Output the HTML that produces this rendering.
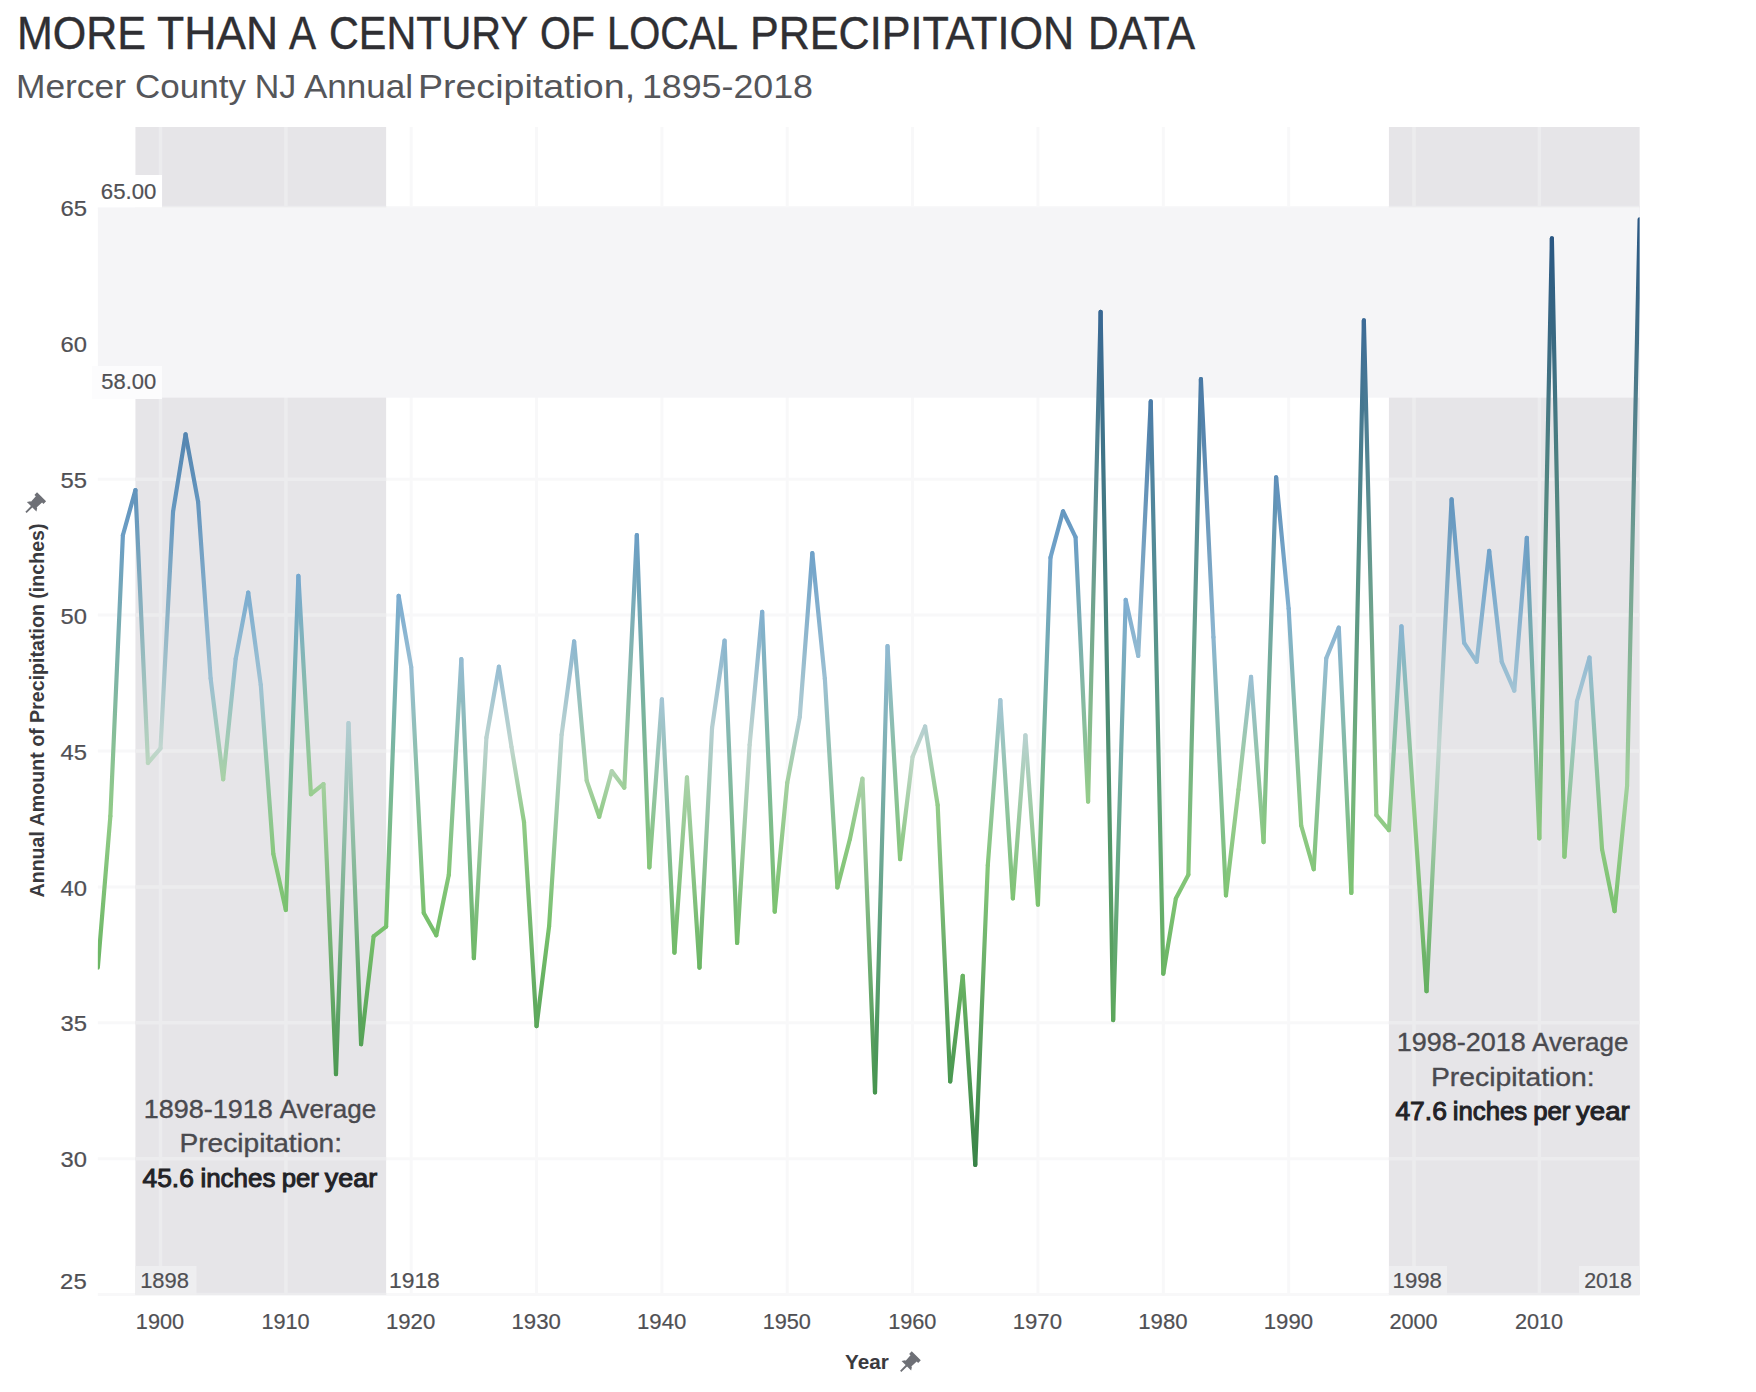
<!DOCTYPE html>
<html><head><meta charset="utf-8"><title>Mercer County NJ Annual Precipitation</title>
<style>
html,body{margin:0;padding:0;background:#fff;}
body{width:1756px;height:1392px;overflow:hidden;position:relative;}
svg{position:absolute;left:0;top:0;}
text{font-family:"Liberation Sans", Arial, sans-serif;}
.title{font-size:46px;fill:#2f2f33;stroke:#2f2f33;stroke-width:0.4px;}
.sub{font-size:33.6px;fill:#55565a;}
.tick{font-size:21.5px;fill:#505054;stroke:#505054;stroke-width:0.2px;}
.bl{font-size:22px;fill:#505054;stroke:#505054;stroke-width:0.2px;}
.ann{font-size:26px;fill:#4a4a4f;stroke:#4a4a4f;stroke-width:0.35px;}
.annb{font-size:26px;fill:#222226;stroke:#222226;stroke-width:1px;}
.axt{font-size:20px;fill:#3a3a3e;font-weight:bold;}
</style></head>
<body>
<svg width="1756" height="1392" viewBox="0 0 1756 1392">
<defs>
<linearGradient id="g0" gradientUnits="userSpaceOnUse" x1="97.83" y1="967.62" x2="110.36" y2="816.23"><stop offset="0" stop-color="#6bb664"/><stop offset="1" stop-color="#91cb87"/></linearGradient>
<linearGradient id="g1" gradientUnits="userSpaceOnUse" x1="110.36" y1="816.23" x2="122.89" y2="535.19"><stop offset="0" stop-color="#91cb87"/><stop offset="1" stop-color="#6c9ec5"/></linearGradient>
<linearGradient id="g2" gradientUnits="userSpaceOnUse" x1="122.89" y1="535.19" x2="135.43" y2="490.07"><stop offset="0" stop-color="#6c9ec5"/><stop offset="1" stop-color="#6193bc"/></linearGradient>
<linearGradient id="g3" gradientUnits="userSpaceOnUse" x1="135.43" y1="490.07" x2="147.97" y2="762.96"><stop offset="0" stop-color="#6193bc"/><stop offset="1" stop-color="#bad5bf"/></linearGradient>
<linearGradient id="g4" gradientUnits="userSpaceOnUse" x1="147.97" y1="762.96" x2="160.5" y2="748.28"><stop offset="0" stop-color="#bad5bf"/><stop offset="1" stop-color="#c1d6cf"/></linearGradient>
<linearGradient id="g5" gradientUnits="userSpaceOnUse" x1="160.5" y1="748.28" x2="173.03" y2="511.82"><stop offset="0" stop-color="#c1d6cf"/><stop offset="1" stop-color="#6698c0"/></linearGradient>
<linearGradient id="g6" gradientUnits="userSpaceOnUse" x1="173.03" y1="511.82" x2="185.57" y2="434.35"><stop offset="0" stop-color="#6698c0"/><stop offset="1" stop-color="#5485b0"/></linearGradient>
<linearGradient id="g7" gradientUnits="userSpaceOnUse" x1="185.57" y1="434.35" x2="198.11" y2="501.76"><stop offset="0" stop-color="#5485b0"/><stop offset="1" stop-color="#6495be"/></linearGradient>
<linearGradient id="g8" gradientUnits="userSpaceOnUse" x1="198.11" y1="501.76" x2="210.64" y2="678.43"><stop offset="0" stop-color="#6495be"/><stop offset="1" stop-color="#9cc0d3"/></linearGradient>
<linearGradient id="g9" gradientUnits="userSpaceOnUse" x1="210.64" y1="678.43" x2="223.18" y2="779.27"><stop offset="0" stop-color="#9cc0d3"/><stop offset="1" stop-color="#a8d1a6"/></linearGradient>
<linearGradient id="g10" gradientUnits="userSpaceOnUse" x1="223.18" y1="779.27" x2="235.71" y2="658.59"><stop offset="0" stop-color="#a8d1a6"/><stop offset="1" stop-color="#94bcd2"/></linearGradient>
<linearGradient id="g11" gradientUnits="userSpaceOnUse" x1="235.71" y1="658.59" x2="248.25" y2="592.54"><stop offset="0" stop-color="#94bcd2"/><stop offset="1" stop-color="#7baccf"/></linearGradient>
<linearGradient id="g12" gradientUnits="userSpaceOnUse" x1="248.25" y1="592.54" x2="260.78" y2="684.95"><stop offset="0" stop-color="#7baccf"/><stop offset="1" stop-color="#9fc2d3"/></linearGradient>
<linearGradient id="g13" gradientUnits="userSpaceOnUse" x1="260.78" y1="684.95" x2="273.31" y2="853.74"><stop offset="0" stop-color="#9fc2d3"/><stop offset="1" stop-color="#89c87e"/></linearGradient>
<linearGradient id="g14" gradientUnits="userSpaceOnUse" x1="273.31" y1="853.74" x2="285.85" y2="910"><stop offset="0" stop-color="#89c87e"/><stop offset="1" stop-color="#7bc270"/></linearGradient>
<linearGradient id="g15" gradientUnits="userSpaceOnUse" x1="285.85" y1="910" x2="298.38" y2="575.96"><stop offset="0" stop-color="#7bc270"/><stop offset="1" stop-color="#76a8ce"/></linearGradient>
<linearGradient id="g16" gradientUnits="userSpaceOnUse" x1="298.38" y1="575.96" x2="310.92" y2="794.22"><stop offset="0" stop-color="#76a8ce"/><stop offset="1" stop-color="#98cd8f"/></linearGradient>
<linearGradient id="g17" gradientUnits="userSpaceOnUse" x1="310.92" y1="794.22" x2="323.46" y2="784.16"><stop offset="0" stop-color="#98cd8f"/><stop offset="1" stop-color="#a3d09e"/></linearGradient>
<linearGradient id="g18" gradientUnits="userSpaceOnUse" x1="323.46" y1="784.16" x2="335.99" y2="1074.17"><stop offset="0" stop-color="#a3d09e"/><stop offset="1" stop-color="#4c9951"/></linearGradient>
<linearGradient id="g19" gradientUnits="userSpaceOnUse" x1="335.99" y1="1074.17" x2="348.52" y2="723"><stop offset="0" stop-color="#4c9951"/><stop offset="1" stop-color="#b2cdd2"/></linearGradient>
<linearGradient id="g20" gradientUnits="userSpaceOnUse" x1="348.52" y1="723" x2="361.06" y2="1044.27"><stop offset="0" stop-color="#b2cdd2"/><stop offset="1" stop-color="#54a156"/></linearGradient>
<linearGradient id="g21" gradientUnits="userSpaceOnUse" x1="361.06" y1="1044.27" x2="373.6" y2="936.37"><stop offset="0" stop-color="#54a156"/><stop offset="1" stop-color="#75be6a"/></linearGradient>
<linearGradient id="g22" gradientUnits="userSpaceOnUse" x1="373.6" y1="936.37" x2="386.13" y2="926.58"><stop offset="0" stop-color="#75be6a"/><stop offset="1" stop-color="#77c16c"/></linearGradient>
<linearGradient id="g23" gradientUnits="userSpaceOnUse" x1="386.13" y1="926.58" x2="398.66" y2="595.8"><stop offset="0" stop-color="#77c16c"/><stop offset="1" stop-color="#7cacd0"/></linearGradient>
<linearGradient id="g24" gradientUnits="userSpaceOnUse" x1="398.66" y1="595.8" x2="411.2" y2="667.01"><stop offset="0" stop-color="#7cacd0"/><stop offset="1" stop-color="#98bed3"/></linearGradient>
<linearGradient id="g25" gradientUnits="userSpaceOnUse" x1="411.2" y1="667.01" x2="423.74" y2="912.99"><stop offset="0" stop-color="#98bed3"/><stop offset="1" stop-color="#7bc26f"/></linearGradient>
<linearGradient id="g26" gradientUnits="userSpaceOnUse" x1="423.74" y1="912.99" x2="436.27" y2="935.28"><stop offset="0" stop-color="#7bc26f"/><stop offset="1" stop-color="#75be6a"/></linearGradient>
<linearGradient id="g27" gradientUnits="userSpaceOnUse" x1="436.27" y1="935.28" x2="448.81" y2="874.94"><stop offset="0" stop-color="#75be6a"/><stop offset="1" stop-color="#84c678"/></linearGradient>
<linearGradient id="g28" gradientUnits="userSpaceOnUse" x1="448.81" y1="874.94" x2="461.34" y2="659.13"><stop offset="0" stop-color="#84c678"/><stop offset="1" stop-color="#95bcd2"/></linearGradient>
<linearGradient id="g29" gradientUnits="userSpaceOnUse" x1="461.34" y1="659.13" x2="473.88" y2="958.11"><stop offset="0" stop-color="#95bcd2"/><stop offset="1" stop-color="#6eb866"/></linearGradient>
<linearGradient id="g30" gradientUnits="userSpaceOnUse" x1="473.88" y1="958.11" x2="486.41" y2="737.68"><stop offset="0" stop-color="#6eb866"/><stop offset="1" stop-color="#bbd3d0"/></linearGradient>
<linearGradient id="g31" gradientUnits="userSpaceOnUse" x1="486.41" y1="737.68" x2="498.94" y2="666.74"><stop offset="0" stop-color="#bbd3d0"/><stop offset="1" stop-color="#98bed3"/></linearGradient>
<linearGradient id="g32" gradientUnits="userSpaceOnUse" x1="498.94" y1="666.74" x2="511.48" y2="746.92"><stop offset="0" stop-color="#98bed3"/><stop offset="1" stop-color="#c0d6cf"/></linearGradient>
<linearGradient id="g33" gradientUnits="userSpaceOnUse" x1="511.48" y1="746.92" x2="524.01" y2="822.21"><stop offset="0" stop-color="#c0d6cf"/><stop offset="1" stop-color="#90cb86"/></linearGradient>
<linearGradient id="g34" gradientUnits="userSpaceOnUse" x1="524.01" y1="822.21" x2="536.55" y2="1026.06"><stop offset="0" stop-color="#90cb86"/><stop offset="1" stop-color="#5aa65a"/></linearGradient>
<linearGradient id="g35" gradientUnits="userSpaceOnUse" x1="536.55" y1="1026.06" x2="549.09" y2="926.31"><stop offset="0" stop-color="#5aa65a"/><stop offset="1" stop-color="#78c16c"/></linearGradient>
<linearGradient id="g36" gradientUnits="userSpaceOnUse" x1="549.09" y1="926.31" x2="561.62" y2="734.69"><stop offset="0" stop-color="#78c16c"/><stop offset="1" stop-color="#b9d2d0"/></linearGradient>
<linearGradient id="g37" gradientUnits="userSpaceOnUse" x1="561.62" y1="734.69" x2="574.15" y2="641.46"><stop offset="0" stop-color="#b9d2d0"/><stop offset="1" stop-color="#8eb7d1"/></linearGradient>
<linearGradient id="g38" gradientUnits="userSpaceOnUse" x1="574.15" y1="641.46" x2="586.69" y2="780.63"><stop offset="0" stop-color="#8eb7d1"/><stop offset="1" stop-color="#a7d1a4"/></linearGradient>
<linearGradient id="g39" gradientUnits="userSpaceOnUse" x1="586.69" y1="780.63" x2="599.23" y2="816.78"><stop offset="0" stop-color="#a7d1a4"/><stop offset="1" stop-color="#91cb87"/></linearGradient>
<linearGradient id="g40" gradientUnits="userSpaceOnUse" x1="599.23" y1="816.78" x2="611.76" y2="771.11"><stop offset="0" stop-color="#91cb87"/><stop offset="1" stop-color="#b1d3b2"/></linearGradient>
<linearGradient id="g41" gradientUnits="userSpaceOnUse" x1="611.76" y1="771.11" x2="624.3" y2="787.69"><stop offset="0" stop-color="#b1d3b2"/><stop offset="1" stop-color="#9fcf99"/></linearGradient>
<linearGradient id="g42" gradientUnits="userSpaceOnUse" x1="624.3" y1="787.69" x2="636.83" y2="535.19"><stop offset="0" stop-color="#9fcf99"/><stop offset="1" stop-color="#6c9ec5"/></linearGradient>
<linearGradient id="g43" gradientUnits="userSpaceOnUse" x1="636.83" y1="535.19" x2="649.37" y2="867.33"><stop offset="0" stop-color="#6c9ec5"/><stop offset="1" stop-color="#85c67a"/></linearGradient>
<linearGradient id="g44" gradientUnits="userSpaceOnUse" x1="649.37" y1="867.33" x2="661.9" y2="699.36"><stop offset="0" stop-color="#85c67a"/><stop offset="1" stop-color="#a4c5d4"/></linearGradient>
<linearGradient id="g45" gradientUnits="userSpaceOnUse" x1="661.9" y1="699.36" x2="674.44" y2="952.68"><stop offset="0" stop-color="#a4c5d4"/><stop offset="1" stop-color="#70ba67"/></linearGradient>
<linearGradient id="g46" gradientUnits="userSpaceOnUse" x1="674.44" y1="952.68" x2="686.97" y2="777.36"><stop offset="0" stop-color="#70ba67"/><stop offset="1" stop-color="#aad2a9"/></linearGradient>
<linearGradient id="g47" gradientUnits="userSpaceOnUse" x1="686.97" y1="777.36" x2="699.5" y2="967.62"><stop offset="0" stop-color="#aad2a9"/><stop offset="1" stop-color="#6bb664"/></linearGradient>
<linearGradient id="g48" gradientUnits="userSpaceOnUse" x1="699.5" y1="967.62" x2="712.04" y2="728.17"><stop offset="0" stop-color="#6bb664"/><stop offset="1" stop-color="#b5cfd1"/></linearGradient>
<linearGradient id="g49" gradientUnits="userSpaceOnUse" x1="712.04" y1="728.17" x2="724.58" y2="640.65"><stop offset="0" stop-color="#b5cfd1"/><stop offset="1" stop-color="#8eb7d1"/></linearGradient>
<linearGradient id="g50" gradientUnits="userSpaceOnUse" x1="724.58" y1="640.65" x2="737.11" y2="942.89"><stop offset="0" stop-color="#8eb7d1"/><stop offset="1" stop-color="#73bc69"/></linearGradient>
<linearGradient id="g51" gradientUnits="userSpaceOnUse" x1="737.11" y1="942.89" x2="749.64" y2="744.75"><stop offset="0" stop-color="#73bc69"/><stop offset="1" stop-color="#bfd5cf"/></linearGradient>
<linearGradient id="g52" gradientUnits="userSpaceOnUse" x1="749.64" y1="744.75" x2="762.18" y2="611.84"><stop offset="0" stop-color="#bfd5cf"/><stop offset="1" stop-color="#83b0d0"/></linearGradient>
<linearGradient id="g53" gradientUnits="userSpaceOnUse" x1="762.18" y1="611.84" x2="774.72" y2="911.63"><stop offset="0" stop-color="#83b0d0"/><stop offset="1" stop-color="#7bc26f"/></linearGradient>
<linearGradient id="g54" gradientUnits="userSpaceOnUse" x1="774.72" y1="911.63" x2="787.25" y2="782.8"><stop offset="0" stop-color="#7bc26f"/><stop offset="1" stop-color="#a4d0a0"/></linearGradient>
<linearGradient id="g55" gradientUnits="userSpaceOnUse" x1="787.25" y1="782.8" x2="799.78" y2="716.75"><stop offset="0" stop-color="#a4d0a0"/><stop offset="1" stop-color="#aecbd2"/></linearGradient>
<linearGradient id="g56" gradientUnits="userSpaceOnUse" x1="799.78" y1="716.75" x2="812.32" y2="553.13"><stop offset="0" stop-color="#aecbd2"/><stop offset="1" stop-color="#70a2c9"/></linearGradient>
<linearGradient id="g57" gradientUnits="userSpaceOnUse" x1="812.32" y1="553.13" x2="824.86" y2="678.7"><stop offset="0" stop-color="#70a2c9"/><stop offset="1" stop-color="#9cc0d3"/></linearGradient>
<linearGradient id="g58" gradientUnits="userSpaceOnUse" x1="824.86" y1="678.7" x2="837.39" y2="887.44"><stop offset="0" stop-color="#9cc0d3"/><stop offset="1" stop-color="#81c475"/></linearGradient>
<linearGradient id="g59" gradientUnits="userSpaceOnUse" x1="837.39" y1="887.44" x2="849.92" y2="839.06"><stop offset="0" stop-color="#81c475"/><stop offset="1" stop-color="#8cc981"/></linearGradient>
<linearGradient id="g60" gradientUnits="userSpaceOnUse" x1="849.92" y1="839.06" x2="862.46" y2="778.72"><stop offset="0" stop-color="#8cc981"/><stop offset="1" stop-color="#a9d1a7"/></linearGradient>
<linearGradient id="g61" gradientUnits="userSpaceOnUse" x1="862.46" y1="778.72" x2="875" y2="1092.38"><stop offset="0" stop-color="#a9d1a7"/><stop offset="1" stop-color="#46944e"/></linearGradient>
<linearGradient id="g62" gradientUnits="userSpaceOnUse" x1="875" y1="1092.38" x2="887.53" y2="646.09"><stop offset="0" stop-color="#46944e"/><stop offset="1" stop-color="#90b9d2"/></linearGradient>
<linearGradient id="g63" gradientUnits="userSpaceOnUse" x1="887.53" y1="646.09" x2="900.07" y2="859.18"><stop offset="0" stop-color="#90b9d2"/><stop offset="1" stop-color="#87c77c"/></linearGradient>
<linearGradient id="g64" gradientUnits="userSpaceOnUse" x1="900.07" y1="859.18" x2="912.6" y2="756.71"><stop offset="0" stop-color="#87c77c"/><stop offset="1" stop-color="#c0d7c9"/></linearGradient>
<linearGradient id="g65" gradientUnits="userSpaceOnUse" x1="912.6" y1="756.71" x2="925.13" y2="726.54"><stop offset="0" stop-color="#c0d7c9"/><stop offset="1" stop-color="#b4cfd1"/></linearGradient>
<linearGradient id="g66" gradientUnits="userSpaceOnUse" x1="925.13" y1="726.54" x2="937.67" y2="805.09"><stop offset="0" stop-color="#b4cfd1"/><stop offset="1" stop-color="#94cc8a"/></linearGradient>
<linearGradient id="g67" gradientUnits="userSpaceOnUse" x1="937.67" y1="805.09" x2="950.21" y2="1081.51"><stop offset="0" stop-color="#94cc8a"/><stop offset="1" stop-color="#499750"/></linearGradient>
<linearGradient id="g68" gradientUnits="userSpaceOnUse" x1="950.21" y1="1081.51" x2="962.74" y2="975.78"><stop offset="0" stop-color="#499750"/><stop offset="1" stop-color="#69b363"/></linearGradient>
<linearGradient id="g69" gradientUnits="userSpaceOnUse" x1="962.74" y1="975.78" x2="975.27" y2="1164.95"><stop offset="0" stop-color="#69b363"/><stop offset="1" stop-color="#388247"/></linearGradient>
<linearGradient id="g70" gradientUnits="userSpaceOnUse" x1="975.27" y1="1164.95" x2="987.81" y2="865.16"><stop offset="0" stop-color="#388247"/><stop offset="1" stop-color="#86c77b"/></linearGradient>
<linearGradient id="g71" gradientUnits="userSpaceOnUse" x1="987.81" y1="865.16" x2="1000.35" y2="700.17"><stop offset="0" stop-color="#86c77b"/><stop offset="1" stop-color="#a4c6d4"/></linearGradient>
<linearGradient id="g72" gradientUnits="userSpaceOnUse" x1="1000.35" y1="700.17" x2="1012.88" y2="898.32"><stop offset="0" stop-color="#a4c6d4"/><stop offset="1" stop-color="#7ec373"/></linearGradient>
<linearGradient id="g73" gradientUnits="userSpaceOnUse" x1="1012.88" y1="898.32" x2="1025.41" y2="735.24"><stop offset="0" stop-color="#7ec373"/><stop offset="1" stop-color="#b9d2d0"/></linearGradient>
<linearGradient id="g74" gradientUnits="userSpaceOnUse" x1="1025.41" y1="735.24" x2="1037.95" y2="904.57"><stop offset="0" stop-color="#b9d2d0"/><stop offset="1" stop-color="#7dc371"/></linearGradient>
<linearGradient id="g75" gradientUnits="userSpaceOnUse" x1="1037.95" y1="904.57" x2="1050.49" y2="557.48"><stop offset="0" stop-color="#7dc371"/><stop offset="1" stop-color="#71a3ca"/></linearGradient>
<linearGradient id="g76" gradientUnits="userSpaceOnUse" x1="1050.49" y1="557.48" x2="1063.02" y2="511.27"><stop offset="0" stop-color="#71a3ca"/><stop offset="1" stop-color="#6698c0"/></linearGradient>
<linearGradient id="g77" gradientUnits="userSpaceOnUse" x1="1063.02" y1="511.27" x2="1075.56" y2="537.09"><stop offset="0" stop-color="#6698c0"/><stop offset="1" stop-color="#6c9ec6"/></linearGradient>
<linearGradient id="g78" gradientUnits="userSpaceOnUse" x1="1075.56" y1="537.09" x2="1088.09" y2="801.55"><stop offset="0" stop-color="#6c9ec6"/><stop offset="1" stop-color="#95cc8b"/></linearGradient>
<linearGradient id="g79" gradientUnits="userSpaceOnUse" x1="1088.09" y1="801.55" x2="1100.62" y2="311.77"><stop offset="0" stop-color="#95cc8b"/><stop offset="1" stop-color="#396894"/></linearGradient>
<linearGradient id="g80" gradientUnits="userSpaceOnUse" x1="1100.62" y1="311.77" x2="1113.16" y2="1020.08"><stop offset="0" stop-color="#396894"/><stop offset="1" stop-color="#5ca75b"/></linearGradient>
<linearGradient id="g81" gradientUnits="userSpaceOnUse" x1="1113.16" y1="1020.08" x2="1125.7" y2="599.88"><stop offset="0" stop-color="#5ca75b"/><stop offset="1" stop-color="#7eadd0"/></linearGradient>
<linearGradient id="g82" gradientUnits="userSpaceOnUse" x1="1125.7" y1="599.88" x2="1138.23" y2="655.87"><stop offset="0" stop-color="#7eadd0"/><stop offset="1" stop-color="#93bbd2"/></linearGradient>
<linearGradient id="g83" gradientUnits="userSpaceOnUse" x1="1138.23" y1="655.87" x2="1150.76" y2="401.47"><stop offset="0" stop-color="#93bbd2"/><stop offset="1" stop-color="#4c7da9"/></linearGradient>
<linearGradient id="g84" gradientUnits="userSpaceOnUse" x1="1150.76" y1="401.47" x2="1163.3" y2="973.6"><stop offset="0" stop-color="#4c7da9"/><stop offset="1" stop-color="#69b463"/></linearGradient>
<linearGradient id="g85" gradientUnits="userSpaceOnUse" x1="1163.3" y1="973.6" x2="1175.84" y2="898.59"><stop offset="0" stop-color="#69b463"/><stop offset="1" stop-color="#7ec373"/></linearGradient>
<linearGradient id="g86" gradientUnits="userSpaceOnUse" x1="1175.84" y1="898.59" x2="1188.37" y2="874.67"><stop offset="0" stop-color="#7ec373"/><stop offset="1" stop-color="#84c678"/></linearGradient>
<linearGradient id="g87" gradientUnits="userSpaceOnUse" x1="1188.37" y1="874.67" x2="1200.9" y2="379.18"><stop offset="0" stop-color="#84c678"/><stop offset="1" stop-color="#4878a4"/></linearGradient>
<linearGradient id="g88" gradientUnits="userSpaceOnUse" x1="1200.9" y1="379.18" x2="1213.44" y2="637.12"><stop offset="0" stop-color="#4878a4"/><stop offset="1" stop-color="#8cb6d1"/></linearGradient>
<linearGradient id="g89" gradientUnits="userSpaceOnUse" x1="1213.44" y1="637.12" x2="1225.97" y2="895.33"><stop offset="0" stop-color="#8cb6d1"/><stop offset="1" stop-color="#7fc473"/></linearGradient>
<linearGradient id="g90" gradientUnits="userSpaceOnUse" x1="1225.97" y1="895.33" x2="1238.51" y2="789.6"><stop offset="0" stop-color="#7fc473"/><stop offset="1" stop-color="#9dcf96"/></linearGradient>
<linearGradient id="g91" gradientUnits="userSpaceOnUse" x1="1238.51" y1="789.6" x2="1251.05" y2="676.8"><stop offset="0" stop-color="#9dcf96"/><stop offset="1" stop-color="#9bc0d3"/></linearGradient>
<linearGradient id="g92" gradientUnits="userSpaceOnUse" x1="1251.05" y1="676.8" x2="1263.58" y2="842.05"><stop offset="0" stop-color="#9bc0d3"/><stop offset="1" stop-color="#8bc981"/></linearGradient>
<linearGradient id="g93" gradientUnits="userSpaceOnUse" x1="1263.58" y1="842.05" x2="1276.12" y2="477.3"><stop offset="0" stop-color="#8bc981"/><stop offset="1" stop-color="#5e8fb9"/></linearGradient>
<linearGradient id="g94" gradientUnits="userSpaceOnUse" x1="1276.12" y1="477.3" x2="1288.65" y2="608.58"><stop offset="0" stop-color="#5e8fb9"/><stop offset="1" stop-color="#81b0d0"/></linearGradient>
<linearGradient id="g95" gradientUnits="userSpaceOnUse" x1="1288.65" y1="608.58" x2="1301.18" y2="825.47"><stop offset="0" stop-color="#81b0d0"/><stop offset="1" stop-color="#8fca85"/></linearGradient>
<linearGradient id="g96" gradientUnits="userSpaceOnUse" x1="1301.18" y1="825.47" x2="1313.72" y2="869.23"><stop offset="0" stop-color="#8fca85"/><stop offset="1" stop-color="#85c67a"/></linearGradient>
<linearGradient id="g97" gradientUnits="userSpaceOnUse" x1="1313.72" y1="869.23" x2="1326.26" y2="658.32"><stop offset="0" stop-color="#85c67a"/><stop offset="1" stop-color="#94bcd2"/></linearGradient>
<linearGradient id="g98" gradientUnits="userSpaceOnUse" x1="1326.26" y1="658.32" x2="1338.79" y2="627.6"><stop offset="0" stop-color="#94bcd2"/><stop offset="1" stop-color="#89b4d1"/></linearGradient>
<linearGradient id="g99" gradientUnits="userSpaceOnUse" x1="1338.79" y1="627.6" x2="1351.33" y2="892.88"><stop offset="0" stop-color="#89b4d1"/><stop offset="1" stop-color="#7fc474"/></linearGradient>
<linearGradient id="g100" gradientUnits="userSpaceOnUse" x1="1351.33" y1="892.88" x2="1363.86" y2="320.47"><stop offset="0" stop-color="#7fc474"/><stop offset="1" stop-color="#3b6a96"/></linearGradient>
<linearGradient id="g101" gradientUnits="userSpaceOnUse" x1="1363.86" y1="320.47" x2="1376.39" y2="815.14"><stop offset="0" stop-color="#3b6a96"/><stop offset="1" stop-color="#92cb87"/></linearGradient>
<linearGradient id="g102" gradientUnits="userSpaceOnUse" x1="1376.39" y1="815.14" x2="1388.93" y2="830.09"><stop offset="0" stop-color="#92cb87"/><stop offset="1" stop-color="#8eca84"/></linearGradient>
<linearGradient id="g103" gradientUnits="userSpaceOnUse" x1="1388.93" y1="830.09" x2="1401.46" y2="626.24"><stop offset="0" stop-color="#8eca84"/><stop offset="1" stop-color="#88b4d1"/></linearGradient>
<linearGradient id="g104" gradientUnits="userSpaceOnUse" x1="1401.46" y1="626.24" x2="1414" y2="807.81"><stop offset="0" stop-color="#88b4d1"/><stop offset="1" stop-color="#93cc89"/></linearGradient>
<linearGradient id="g105" gradientUnits="userSpaceOnUse" x1="1414" y1="807.81" x2="1426.54" y2="991.27"><stop offset="0" stop-color="#93cc89"/><stop offset="1" stop-color="#64af60"/></linearGradient>
<linearGradient id="g106" gradientUnits="userSpaceOnUse" x1="1426.54" y1="991.27" x2="1439.07" y2="744.2"><stop offset="0" stop-color="#64af60"/><stop offset="1" stop-color="#bfd5cf"/></linearGradient>
<linearGradient id="g107" gradientUnits="userSpaceOnUse" x1="1439.07" y1="744.2" x2="1451.61" y2="499.31"><stop offset="0" stop-color="#bfd5cf"/><stop offset="1" stop-color="#6395be"/></linearGradient>
<linearGradient id="g108" gradientUnits="userSpaceOnUse" x1="1451.61" y1="499.31" x2="1464.14" y2="642.82"><stop offset="0" stop-color="#6395be"/><stop offset="1" stop-color="#8eb8d2"/></linearGradient>
<linearGradient id="g109" gradientUnits="userSpaceOnUse" x1="1464.14" y1="642.82" x2="1476.67" y2="661.85"><stop offset="0" stop-color="#8eb8d2"/><stop offset="1" stop-color="#96bcd2"/></linearGradient>
<linearGradient id="g110" gradientUnits="userSpaceOnUse" x1="1476.67" y1="661.85" x2="1489.21" y2="550.96"><stop offset="0" stop-color="#96bcd2"/><stop offset="1" stop-color="#70a2c9"/></linearGradient>
<linearGradient id="g111" gradientUnits="userSpaceOnUse" x1="1489.21" y1="550.96" x2="1501.75" y2="661.85"><stop offset="0" stop-color="#70a2c9"/><stop offset="1" stop-color="#96bcd2"/></linearGradient>
<linearGradient id="g112" gradientUnits="userSpaceOnUse" x1="1501.75" y1="661.85" x2="1514.28" y2="690.66"><stop offset="0" stop-color="#96bcd2"/><stop offset="1" stop-color="#a1c3d4"/></linearGradient>
<linearGradient id="g113" gradientUnits="userSpaceOnUse" x1="1514.28" y1="690.66" x2="1526.82" y2="537.91"><stop offset="0" stop-color="#a1c3d4"/><stop offset="1" stop-color="#6d9ec6"/></linearGradient>
<linearGradient id="g114" gradientUnits="userSpaceOnUse" x1="1526.82" y1="537.91" x2="1539.35" y2="838.52"><stop offset="0" stop-color="#6d9ec6"/><stop offset="1" stop-color="#8cc981"/></linearGradient>
<linearGradient id="g115" gradientUnits="userSpaceOnUse" x1="1539.35" y1="838.52" x2="1551.88" y2="238.39"><stop offset="0" stop-color="#8cc981"/><stop offset="1" stop-color="#2a5783"/></linearGradient>
<linearGradient id="g116" gradientUnits="userSpaceOnUse" x1="1551.88" y1="238.39" x2="1564.42" y2="856.73"><stop offset="0" stop-color="#2a5783"/><stop offset="1" stop-color="#88c77d"/></linearGradient>
<linearGradient id="g117" gradientUnits="userSpaceOnUse" x1="1564.42" y1="856.73" x2="1576.95" y2="701.26"><stop offset="0" stop-color="#88c77d"/><stop offset="1" stop-color="#a5c6d4"/></linearGradient>
<linearGradient id="g118" gradientUnits="userSpaceOnUse" x1="1576.95" y1="701.26" x2="1589.49" y2="657.5"><stop offset="0" stop-color="#a5c6d4"/><stop offset="1" stop-color="#94bbd2"/></linearGradient>
<linearGradient id="g119" gradientUnits="userSpaceOnUse" x1="1589.49" y1="657.5" x2="1602.03" y2="849.12"><stop offset="0" stop-color="#94bbd2"/><stop offset="1" stop-color="#8ac87f"/></linearGradient>
<linearGradient id="g120" gradientUnits="userSpaceOnUse" x1="1602.03" y1="849.12" x2="1614.56" y2="911.09"><stop offset="0" stop-color="#8ac87f"/><stop offset="1" stop-color="#7bc26f"/></linearGradient>
<linearGradient id="g121" gradientUnits="userSpaceOnUse" x1="1614.56" y1="911.09" x2="1627.1" y2="785.79"><stop offset="0" stop-color="#7bc26f"/><stop offset="1" stop-color="#a1d09c"/></linearGradient>
<linearGradient id="g122" gradientUnits="userSpaceOnUse" x1="1627.1" y1="785.79" x2="1639.63" y2="219.36"><stop offset="0" stop-color="#a1d09c"/><stop offset="1" stop-color="#2a5783"/></linearGradient>
</defs>
<clipPath id="bands">
<rect x="135.43" y="127" width="250.7" height="1167.6"/>
<rect x="1388.93" y="127" width="250.7" height="1167.6"/>
</clipPath>
<g stroke="#f8f8f9" stroke-width="3">
<line x1="160.5" y1="127" x2="160.5" y2="1294.6"/>
<line x1="285.85" y1="127" x2="285.85" y2="1294.6"/>
<line x1="411.2" y1="127" x2="411.2" y2="1294.6"/>
<line x1="536.55" y1="127" x2="536.55" y2="1294.6"/>
<line x1="661.9" y1="127" x2="661.9" y2="1294.6"/>
<line x1="787.25" y1="127" x2="787.25" y2="1294.6"/>
<line x1="912.6" y1="127" x2="912.6" y2="1294.6"/>
<line x1="1037.95" y1="127" x2="1037.95" y2="1294.6"/>
<line x1="1163.3" y1="127" x2="1163.3" y2="1294.6"/>
<line x1="1288.65" y1="127" x2="1288.65" y2="1294.6"/>
<line x1="1414" y1="127" x2="1414" y2="1294.6"/>
<line x1="1539.35" y1="127" x2="1539.35" y2="1294.6"/>
<line x1="97.83" y1="1294.6" x2="1639.63" y2="1294.6"/>
<line x1="97.83" y1="1158.7" x2="1639.63" y2="1158.7"/>
<line x1="97.83" y1="1022.8" x2="1639.63" y2="1022.8"/>
<line x1="97.83" y1="886.9" x2="1639.63" y2="886.9"/>
<line x1="97.83" y1="751" x2="1639.63" y2="751"/>
<line x1="97.83" y1="615.1" x2="1639.63" y2="615.1"/>
<line x1="97.83" y1="479.2" x2="1639.63" y2="479.2"/>
<line x1="97.83" y1="343.3" x2="1639.63" y2="343.3"/>
<line x1="97.83" y1="207.4" x2="1639.63" y2="207.4"/>
</g>
<rect x="135.43" y="127" width="250.7" height="1167.6" fill="#e6e5e8"/>
<rect x="1388.93" y="127" width="250.7" height="1167.6" fill="#e6e5e8"/>
<g stroke="#ececee" stroke-width="3.5" clip-path="url(#bands)">
<line x1="160.5" y1="127" x2="160.5" y2="1294.6"/>
<line x1="285.85" y1="127" x2="285.85" y2="1294.6"/>
<line x1="411.2" y1="127" x2="411.2" y2="1294.6"/>
<line x1="536.55" y1="127" x2="536.55" y2="1294.6"/>
<line x1="661.9" y1="127" x2="661.9" y2="1294.6"/>
<line x1="787.25" y1="127" x2="787.25" y2="1294.6"/>
<line x1="912.6" y1="127" x2="912.6" y2="1294.6"/>
<line x1="1037.95" y1="127" x2="1037.95" y2="1294.6"/>
<line x1="1163.3" y1="127" x2="1163.3" y2="1294.6"/>
<line x1="1288.65" y1="127" x2="1288.65" y2="1294.6"/>
<line x1="1414" y1="127" x2="1414" y2="1294.6"/>
<line x1="1539.35" y1="127" x2="1539.35" y2="1294.6"/>
<line x1="97.83" y1="1294.6" x2="1639.63" y2="1294.6"/>
<line x1="97.83" y1="1158.7" x2="1639.63" y2="1158.7"/>
<line x1="97.83" y1="1022.8" x2="1639.63" y2="1022.8"/>
<line x1="97.83" y1="886.9" x2="1639.63" y2="886.9"/>
<line x1="97.83" y1="751" x2="1639.63" y2="751"/>
<line x1="97.83" y1="615.1" x2="1639.63" y2="615.1"/>
<line x1="97.83" y1="479.2" x2="1639.63" y2="479.2"/>
<line x1="97.83" y1="343.3" x2="1639.63" y2="343.3"/>
<line x1="97.83" y1="207.4" x2="1639.63" y2="207.4"/>
</g>
<rect x="97.83" y="207.4" width="1541.81" height="190.26" fill="#f5f5f7"/>
<rect x="92" y="175" width="70" height="32.4" fill="#ffffff"/>
<rect x="92" y="366" width="70" height="33" fill="#fcfcfd"/>
<rect x="135.43" y="1266" width="61" height="28.6" fill="#eeeef0"/>
<rect x="1388.93" y="1266" width="58" height="28.6" fill="#eeeef0"/>
<rect x="1579" y="1266" width="60.63" height="28.6" fill="#eeeef0"/>
<clipPath id="pane"><rect x="97.83" y="127" width="1541.81" height="1167.6"/></clipPath>
<g clip-path="url(#pane)" stroke-width="4.2" stroke-linecap="round" fill="none">
<line x1="97.83" y1="967.62" x2="110.36" y2="816.23" stroke="url(#g0)"/>
<line x1="110.36" y1="816.23" x2="122.89" y2="535.19" stroke="url(#g1)"/>
<line x1="122.89" y1="535.19" x2="135.43" y2="490.07" stroke="url(#g2)"/>
<line x1="135.43" y1="490.07" x2="147.97" y2="762.96" stroke="url(#g3)"/>
<line x1="147.97" y1="762.96" x2="160.5" y2="748.28" stroke="url(#g4)"/>
<line x1="160.5" y1="748.28" x2="173.03" y2="511.82" stroke="url(#g5)"/>
<line x1="173.03" y1="511.82" x2="185.57" y2="434.35" stroke="url(#g6)"/>
<line x1="185.57" y1="434.35" x2="198.11" y2="501.76" stroke="url(#g7)"/>
<line x1="198.11" y1="501.76" x2="210.64" y2="678.43" stroke="url(#g8)"/>
<line x1="210.64" y1="678.43" x2="223.18" y2="779.27" stroke="url(#g9)"/>
<line x1="223.18" y1="779.27" x2="235.71" y2="658.59" stroke="url(#g10)"/>
<line x1="235.71" y1="658.59" x2="248.25" y2="592.54" stroke="url(#g11)"/>
<line x1="248.25" y1="592.54" x2="260.78" y2="684.95" stroke="url(#g12)"/>
<line x1="260.78" y1="684.95" x2="273.31" y2="853.74" stroke="url(#g13)"/>
<line x1="273.31" y1="853.74" x2="285.85" y2="910" stroke="url(#g14)"/>
<line x1="285.85" y1="910" x2="298.38" y2="575.96" stroke="url(#g15)"/>
<line x1="298.38" y1="575.96" x2="310.92" y2="794.22" stroke="url(#g16)"/>
<line x1="310.92" y1="794.22" x2="323.46" y2="784.16" stroke="url(#g17)"/>
<line x1="323.46" y1="784.16" x2="335.99" y2="1074.17" stroke="url(#g18)"/>
<line x1="335.99" y1="1074.17" x2="348.52" y2="723" stroke="url(#g19)"/>
<line x1="348.52" y1="723" x2="361.06" y2="1044.27" stroke="url(#g20)"/>
<line x1="361.06" y1="1044.27" x2="373.6" y2="936.37" stroke="url(#g21)"/>
<line x1="373.6" y1="936.37" x2="386.13" y2="926.58" stroke="url(#g22)"/>
<line x1="386.13" y1="926.58" x2="398.66" y2="595.8" stroke="url(#g23)"/>
<line x1="398.66" y1="595.8" x2="411.2" y2="667.01" stroke="url(#g24)"/>
<line x1="411.2" y1="667.01" x2="423.74" y2="912.99" stroke="url(#g25)"/>
<line x1="423.74" y1="912.99" x2="436.27" y2="935.28" stroke="url(#g26)"/>
<line x1="436.27" y1="935.28" x2="448.81" y2="874.94" stroke="url(#g27)"/>
<line x1="448.81" y1="874.94" x2="461.34" y2="659.13" stroke="url(#g28)"/>
<line x1="461.34" y1="659.13" x2="473.88" y2="958.11" stroke="url(#g29)"/>
<line x1="473.88" y1="958.11" x2="486.41" y2="737.68" stroke="url(#g30)"/>
<line x1="486.41" y1="737.68" x2="498.94" y2="666.74" stroke="url(#g31)"/>
<line x1="498.94" y1="666.74" x2="511.48" y2="746.92" stroke="url(#g32)"/>
<line x1="511.48" y1="746.92" x2="524.01" y2="822.21" stroke="url(#g33)"/>
<line x1="524.01" y1="822.21" x2="536.55" y2="1026.06" stroke="url(#g34)"/>
<line x1="536.55" y1="1026.06" x2="549.09" y2="926.31" stroke="url(#g35)"/>
<line x1="549.09" y1="926.31" x2="561.62" y2="734.69" stroke="url(#g36)"/>
<line x1="561.62" y1="734.69" x2="574.15" y2="641.46" stroke="url(#g37)"/>
<line x1="574.15" y1="641.46" x2="586.69" y2="780.63" stroke="url(#g38)"/>
<line x1="586.69" y1="780.63" x2="599.23" y2="816.78" stroke="url(#g39)"/>
<line x1="599.23" y1="816.78" x2="611.76" y2="771.11" stroke="url(#g40)"/>
<line x1="611.76" y1="771.11" x2="624.3" y2="787.69" stroke="url(#g41)"/>
<line x1="624.3" y1="787.69" x2="636.83" y2="535.19" stroke="url(#g42)"/>
<line x1="636.83" y1="535.19" x2="649.37" y2="867.33" stroke="url(#g43)"/>
<line x1="649.37" y1="867.33" x2="661.9" y2="699.36" stroke="url(#g44)"/>
<line x1="661.9" y1="699.36" x2="674.44" y2="952.68" stroke="url(#g45)"/>
<line x1="674.44" y1="952.68" x2="686.97" y2="777.36" stroke="url(#g46)"/>
<line x1="686.97" y1="777.36" x2="699.5" y2="967.62" stroke="url(#g47)"/>
<line x1="699.5" y1="967.62" x2="712.04" y2="728.17" stroke="url(#g48)"/>
<line x1="712.04" y1="728.17" x2="724.58" y2="640.65" stroke="url(#g49)"/>
<line x1="724.58" y1="640.65" x2="737.11" y2="942.89" stroke="url(#g50)"/>
<line x1="737.11" y1="942.89" x2="749.64" y2="744.75" stroke="url(#g51)"/>
<line x1="749.64" y1="744.75" x2="762.18" y2="611.84" stroke="url(#g52)"/>
<line x1="762.18" y1="611.84" x2="774.72" y2="911.63" stroke="url(#g53)"/>
<line x1="774.72" y1="911.63" x2="787.25" y2="782.8" stroke="url(#g54)"/>
<line x1="787.25" y1="782.8" x2="799.78" y2="716.75" stroke="url(#g55)"/>
<line x1="799.78" y1="716.75" x2="812.32" y2="553.13" stroke="url(#g56)"/>
<line x1="812.32" y1="553.13" x2="824.86" y2="678.7" stroke="url(#g57)"/>
<line x1="824.86" y1="678.7" x2="837.39" y2="887.44" stroke="url(#g58)"/>
<line x1="837.39" y1="887.44" x2="849.92" y2="839.06" stroke="url(#g59)"/>
<line x1="849.92" y1="839.06" x2="862.46" y2="778.72" stroke="url(#g60)"/>
<line x1="862.46" y1="778.72" x2="875" y2="1092.38" stroke="url(#g61)"/>
<line x1="875" y1="1092.38" x2="887.53" y2="646.09" stroke="url(#g62)"/>
<line x1="887.53" y1="646.09" x2="900.07" y2="859.18" stroke="url(#g63)"/>
<line x1="900.07" y1="859.18" x2="912.6" y2="756.71" stroke="url(#g64)"/>
<line x1="912.6" y1="756.71" x2="925.13" y2="726.54" stroke="url(#g65)"/>
<line x1="925.13" y1="726.54" x2="937.67" y2="805.09" stroke="url(#g66)"/>
<line x1="937.67" y1="805.09" x2="950.21" y2="1081.51" stroke="url(#g67)"/>
<line x1="950.21" y1="1081.51" x2="962.74" y2="975.78" stroke="url(#g68)"/>
<line x1="962.74" y1="975.78" x2="975.27" y2="1164.95" stroke="url(#g69)"/>
<line x1="975.27" y1="1164.95" x2="987.81" y2="865.16" stroke="url(#g70)"/>
<line x1="987.81" y1="865.16" x2="1000.35" y2="700.17" stroke="url(#g71)"/>
<line x1="1000.35" y1="700.17" x2="1012.88" y2="898.32" stroke="url(#g72)"/>
<line x1="1012.88" y1="898.32" x2="1025.41" y2="735.24" stroke="url(#g73)"/>
<line x1="1025.41" y1="735.24" x2="1037.95" y2="904.57" stroke="url(#g74)"/>
<line x1="1037.95" y1="904.57" x2="1050.49" y2="557.48" stroke="url(#g75)"/>
<line x1="1050.49" y1="557.48" x2="1063.02" y2="511.27" stroke="url(#g76)"/>
<line x1="1063.02" y1="511.27" x2="1075.56" y2="537.09" stroke="url(#g77)"/>
<line x1="1075.56" y1="537.09" x2="1088.09" y2="801.55" stroke="url(#g78)"/>
<line x1="1088.09" y1="801.55" x2="1100.62" y2="311.77" stroke="url(#g79)"/>
<line x1="1100.62" y1="311.77" x2="1113.16" y2="1020.08" stroke="url(#g80)"/>
<line x1="1113.16" y1="1020.08" x2="1125.7" y2="599.88" stroke="url(#g81)"/>
<line x1="1125.7" y1="599.88" x2="1138.23" y2="655.87" stroke="url(#g82)"/>
<line x1="1138.23" y1="655.87" x2="1150.76" y2="401.47" stroke="url(#g83)"/>
<line x1="1150.76" y1="401.47" x2="1163.3" y2="973.6" stroke="url(#g84)"/>
<line x1="1163.3" y1="973.6" x2="1175.84" y2="898.59" stroke="url(#g85)"/>
<line x1="1175.84" y1="898.59" x2="1188.37" y2="874.67" stroke="url(#g86)"/>
<line x1="1188.37" y1="874.67" x2="1200.9" y2="379.18" stroke="url(#g87)"/>
<line x1="1200.9" y1="379.18" x2="1213.44" y2="637.12" stroke="url(#g88)"/>
<line x1="1213.44" y1="637.12" x2="1225.97" y2="895.33" stroke="url(#g89)"/>
<line x1="1225.97" y1="895.33" x2="1238.51" y2="789.6" stroke="url(#g90)"/>
<line x1="1238.51" y1="789.6" x2="1251.05" y2="676.8" stroke="url(#g91)"/>
<line x1="1251.05" y1="676.8" x2="1263.58" y2="842.05" stroke="url(#g92)"/>
<line x1="1263.58" y1="842.05" x2="1276.12" y2="477.3" stroke="url(#g93)"/>
<line x1="1276.12" y1="477.3" x2="1288.65" y2="608.58" stroke="url(#g94)"/>
<line x1="1288.65" y1="608.58" x2="1301.18" y2="825.47" stroke="url(#g95)"/>
<line x1="1301.18" y1="825.47" x2="1313.72" y2="869.23" stroke="url(#g96)"/>
<line x1="1313.72" y1="869.23" x2="1326.26" y2="658.32" stroke="url(#g97)"/>
<line x1="1326.26" y1="658.32" x2="1338.79" y2="627.6" stroke="url(#g98)"/>
<line x1="1338.79" y1="627.6" x2="1351.33" y2="892.88" stroke="url(#g99)"/>
<line x1="1351.33" y1="892.88" x2="1363.86" y2="320.47" stroke="url(#g100)"/>
<line x1="1363.86" y1="320.47" x2="1376.39" y2="815.14" stroke="url(#g101)"/>
<line x1="1376.39" y1="815.14" x2="1388.93" y2="830.09" stroke="url(#g102)"/>
<line x1="1388.93" y1="830.09" x2="1401.46" y2="626.24" stroke="url(#g103)"/>
<line x1="1401.46" y1="626.24" x2="1414" y2="807.81" stroke="url(#g104)"/>
<line x1="1414" y1="807.81" x2="1426.54" y2="991.27" stroke="url(#g105)"/>
<line x1="1426.54" y1="991.27" x2="1439.07" y2="744.2" stroke="url(#g106)"/>
<line x1="1439.07" y1="744.2" x2="1451.61" y2="499.31" stroke="url(#g107)"/>
<line x1="1451.61" y1="499.31" x2="1464.14" y2="642.82" stroke="url(#g108)"/>
<line x1="1464.14" y1="642.82" x2="1476.67" y2="661.85" stroke="url(#g109)"/>
<line x1="1476.67" y1="661.85" x2="1489.21" y2="550.96" stroke="url(#g110)"/>
<line x1="1489.21" y1="550.96" x2="1501.75" y2="661.85" stroke="url(#g111)"/>
<line x1="1501.75" y1="661.85" x2="1514.28" y2="690.66" stroke="url(#g112)"/>
<line x1="1514.28" y1="690.66" x2="1526.82" y2="537.91" stroke="url(#g113)"/>
<line x1="1526.82" y1="537.91" x2="1539.35" y2="838.52" stroke="url(#g114)"/>
<line x1="1539.35" y1="838.52" x2="1551.88" y2="238.39" stroke="url(#g115)"/>
<line x1="1551.88" y1="238.39" x2="1564.42" y2="856.73" stroke="url(#g116)"/>
<line x1="1564.42" y1="856.73" x2="1576.95" y2="701.26" stroke="url(#g117)"/>
<line x1="1576.95" y1="701.26" x2="1589.49" y2="657.5" stroke="url(#g118)"/>
<line x1="1589.49" y1="657.5" x2="1602.03" y2="849.12" stroke="url(#g119)"/>
<line x1="1602.03" y1="849.12" x2="1614.56" y2="911.09" stroke="url(#g120)"/>
<line x1="1614.56" y1="911.09" x2="1627.1" y2="785.79" stroke="url(#g121)"/>
<line x1="1627.1" y1="785.79" x2="1639.63" y2="219.36" stroke="url(#g122)"/>
</g>
<g transform="translate(26,512.4) rotate(45)" fill="#6e7076"><path d="M-0.9,0 L0.9,0 L1,-8 L6.8,-8 L4.8,-11 L4,-11 L4.4,-18.3 L6.4,-18.3 L6.4,-22 L-6.4,-22 L-6.4,-18.3 L-4.4,-18.3 L-4,-11 L-4.8,-11 L-6.8,-8 L-1,-8 Z"/></g>
<g transform="translate(900.7,1371.4) rotate(45)" fill="#6e7076"><path d="M-0.9,0 L0.9,0 L1,-8 L6.8,-8 L4.8,-11 L4,-11 L4.4,-18.3 L6.4,-18.3 L6.4,-22 L-6.4,-22 L-6.4,-18.3 L-4.4,-18.3 L-4,-11 L-4.8,-11 L-6.8,-8 L-1,-8 Z"/></g>
<text x="16.91" y="49" class="title" textLength="129.14" lengthAdjust="spacingAndGlyphs">MORE</text>
<text x="156.97" y="49" class="title" textLength="121.07" lengthAdjust="spacingAndGlyphs">THAN</text>
<text x="288.98" y="49" class="title" textLength="27.09" lengthAdjust="spacingAndGlyphs">A</text>
<text x="328.98" y="49" class="title" textLength="199.03" lengthAdjust="spacingAndGlyphs">CENTURY</text>
<text x="539.96" y="49" class="title" textLength="55.07" lengthAdjust="spacingAndGlyphs">OF</text>
<text x="606.93" y="49" class="title" textLength="131.09" lengthAdjust="spacingAndGlyphs">LOCAL</text>
<text x="749.99" y="49" class="title" textLength="324.11" lengthAdjust="spacingAndGlyphs">PRECIPITATION</text>
<text x="1087.97" y="49" class="title" textLength="107.03" lengthAdjust="spacingAndGlyphs">DATA</text>
<text x="15.96" y="97.9" class="sub" textLength="110.06" lengthAdjust="spacingAndGlyphs">Mercer</text>
<text x="135.01" y="97.9" class="sub" textLength="110.99" lengthAdjust="spacingAndGlyphs">County</text>
<text x="254.77" y="97.9" class="sub" textLength="41.49" lengthAdjust="spacingAndGlyphs">NJ</text>
<text x="303.99" y="97.9" class="sub" textLength="109.04" lengthAdjust="spacingAndGlyphs">Annual</text>
<text x="417.91" y="97.9" class="sub" textLength="217.17" lengthAdjust="spacingAndGlyphs">Precipitation,</text>
<text x="641.95" y="97.9" class="sub" textLength="171.07" lengthAdjust="spacingAndGlyphs">1895-2018</text>
<text x="143.88" y="1117.7" class="ann" textLength="128.93" lengthAdjust="spacingAndGlyphs">1898-1918</text>
<text x="279.7" y="1117.7" class="ann" textLength="96.49" lengthAdjust="spacingAndGlyphs">Average</text>
<text x="179.45" y="1152.3" class="ann" textLength="162.58" lengthAdjust="spacingAndGlyphs">Precipitation:</text>
<text x="142.58" y="1187" class="annb" textLength="51.2" lengthAdjust="spacingAndGlyphs">45.6</text>
<text x="200.42" y="1187" class="annb" textLength="75" lengthAdjust="spacingAndGlyphs">inches</text>
<text x="281.72" y="1187" class="annb" textLength="37.2" lengthAdjust="spacingAndGlyphs">per</text>
<text x="324.8" y="1187" class="annb" textLength="52.29" lengthAdjust="spacingAndGlyphs">year</text>
<text x="1396.77" y="1051.1" class="ann" textLength="128.9" lengthAdjust="spacingAndGlyphs">1998-2018</text>
<text x="1532" y="1051.1" class="ann" textLength="96.49" lengthAdjust="spacingAndGlyphs">Average</text>
<text x="1430.99" y="1085.8" class="ann" textLength="163.71" lengthAdjust="spacingAndGlyphs">Precipitation:</text>
<text x="1395.4" y="1120.4" class="annb" textLength="51.57" lengthAdjust="spacingAndGlyphs">47.6</text>
<text x="1452.8" y="1120.4" class="annb" textLength="74.44" lengthAdjust="spacingAndGlyphs">inches</text>
<text x="1533.21" y="1120.4" class="annb" textLength="37.2" lengthAdjust="spacingAndGlyphs">per</text>
<text x="1576" y="1120.4" class="annb" textLength="53.8" lengthAdjust="spacingAndGlyphs">year</text>
<text x="100.86" y="198.8" class="bl" textLength="55.43" lengthAdjust="spacingAndGlyphs">65.00</text>
<text x="101.35" y="389.2" class="bl" textLength="54.95" lengthAdjust="spacingAndGlyphs">58.00</text>
<text x="140.15" y="1287.6" class="bl" textLength="48.85" lengthAdjust="spacingAndGlyphs">1898</text>
<text x="388.94" y="1287.6" class="bl" textLength="50.89" lengthAdjust="spacingAndGlyphs">1918</text>
<text x="1392.59" y="1287.6" class="bl" textLength="49.38" lengthAdjust="spacingAndGlyphs">1998</text>
<text x="1584.16" y="1287.6" class="bl" textLength="47.77" lengthAdjust="spacingAndGlyphs">2018</text>
<text x="60.46" y="1167.3" class="tick" textLength="26.39" lengthAdjust="spacingAndGlyphs">30</text>
<text x="60.42" y="1031.4" class="tick" textLength="26.48" lengthAdjust="spacingAndGlyphs">35</text>
<text x="60.43" y="895.5" class="tick" textLength="26.5" lengthAdjust="spacingAndGlyphs">40</text>
<text x="60.46" y="759.6" class="tick" textLength="26.44" lengthAdjust="spacingAndGlyphs">45</text>
<text x="60.46" y="623.7" class="tick" textLength="26.39" lengthAdjust="spacingAndGlyphs">50</text>
<text x="60.42" y="487.8" class="tick" textLength="26.48" lengthAdjust="spacingAndGlyphs">55</text>
<text x="60.46" y="351.9" class="tick" textLength="26.39" lengthAdjust="spacingAndGlyphs">60</text>
<text x="60.42" y="216" class="tick" textLength="26.48" lengthAdjust="spacingAndGlyphs">65</text>
<text x="60.12" y="1289" class="tick" textLength="26.55" lengthAdjust="spacingAndGlyphs">25</text>
<text x="135.87" y="1329" class="tick" textLength="48.27" lengthAdjust="spacingAndGlyphs">1900</text>
<text x="261.41" y="1329" class="tick" textLength="48.28" lengthAdjust="spacingAndGlyphs">1910</text>
<text x="385.97" y="1329" class="tick" textLength="49.31" lengthAdjust="spacingAndGlyphs">1920</text>
<text x="511.5" y="1329" class="tick" textLength="49.28" lengthAdjust="spacingAndGlyphs">1930</text>
<text x="637.04" y="1329" class="tick" textLength="49.29" lengthAdjust="spacingAndGlyphs">1940</text>
<text x="762.65" y="1329" class="tick" textLength="48.25" lengthAdjust="spacingAndGlyphs">1950</text>
<text x="888.17" y="1329" class="tick" textLength="48.29" lengthAdjust="spacingAndGlyphs">1960</text>
<text x="1012.69" y="1329" class="tick" textLength="49.27" lengthAdjust="spacingAndGlyphs">1970</text>
<text x="1138.25" y="1329" class="tick" textLength="49.28" lengthAdjust="spacingAndGlyphs">1980</text>
<text x="1263.79" y="1329" class="tick" textLength="49.31" lengthAdjust="spacingAndGlyphs">1990</text>
<text x="1389.41" y="1329" class="tick" textLength="48.24" lengthAdjust="spacingAndGlyphs">2000</text>
<text x="1514.95" y="1329" class="tick" textLength="48.23" lengthAdjust="spacingAndGlyphs">2010</text>
<text x="845.04" y="1369.4" class="axt" textLength="43.8" lengthAdjust="spacingAndGlyphs">Year</text>
<text transform="rotate(-90)" x="-897.5" y="43.6" class="axt" textLength="374" lengthAdjust="spacingAndGlyphs">Annual Amount of Precipitation (inches)</text>
</svg>
</body></html>
